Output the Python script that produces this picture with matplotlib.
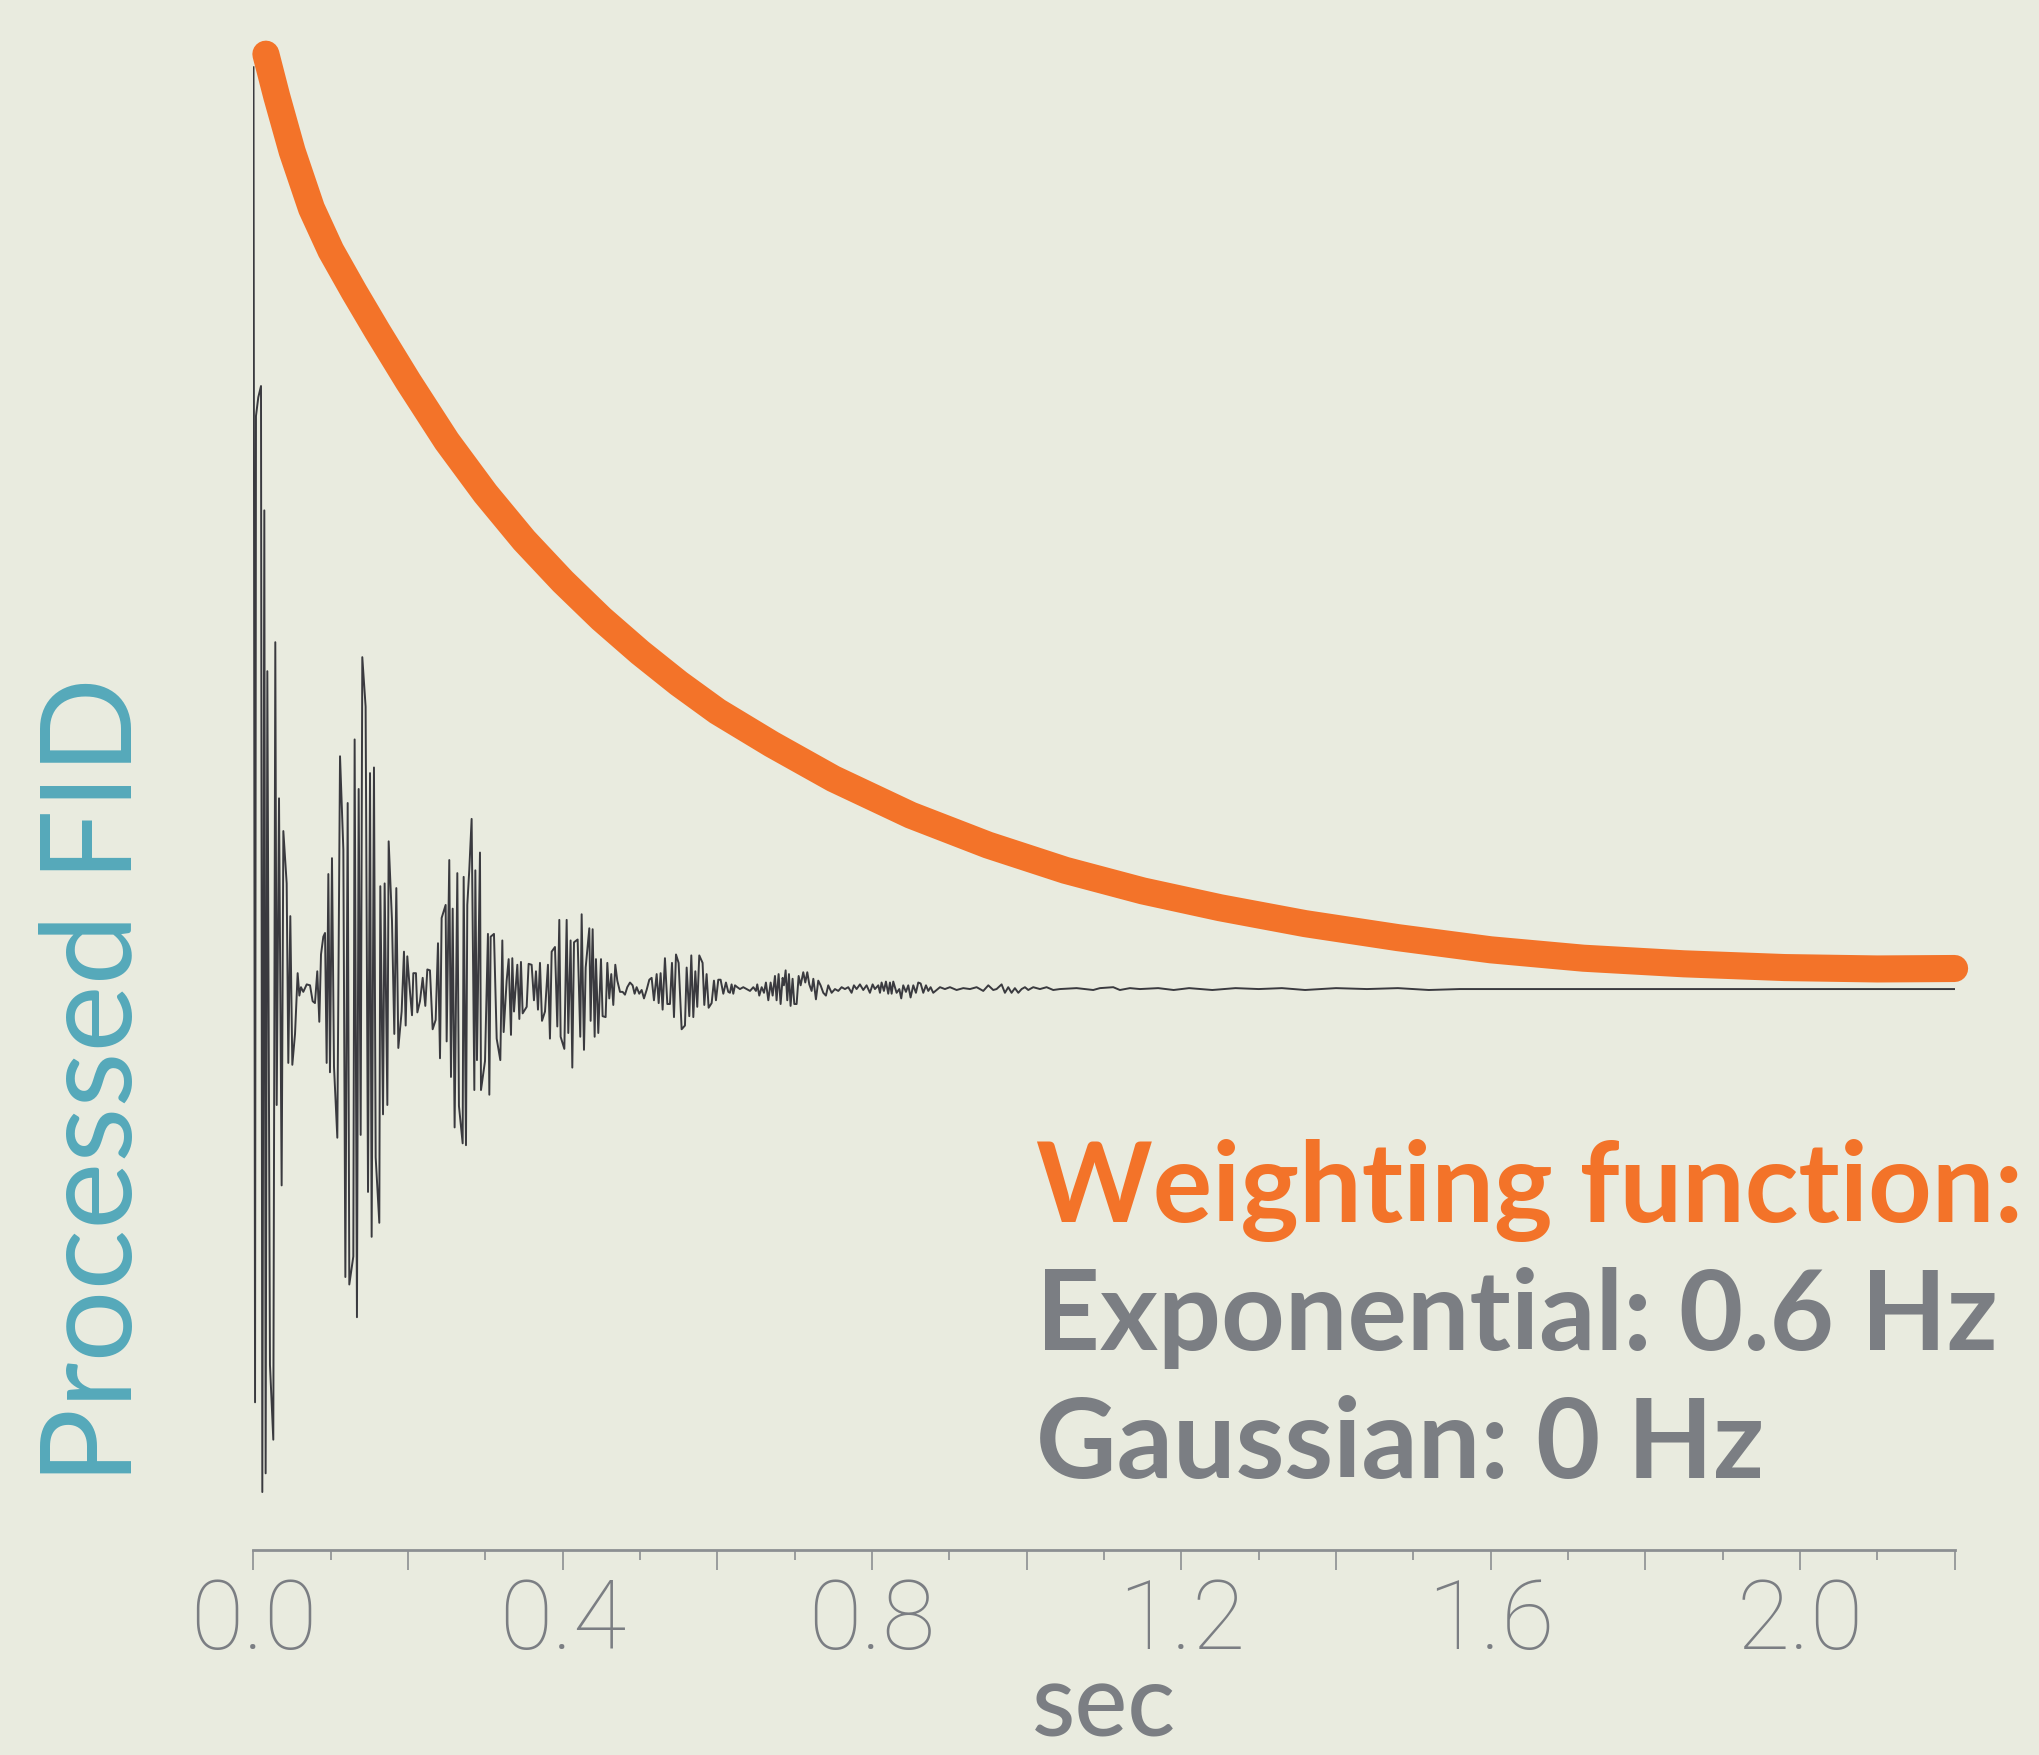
import matplotlib
matplotlib.use('Agg')
import matplotlib.pyplot as plt
import numpy as np

# processed FID (arbitrary units, baseline 0)
fid_t = [0.000, 0.002, 0.0032, 0.0062, 0.0097, 0.0114, 0.0140, 0.0157, 0.0179, 0.0213,
         0.0256, 0.0282, 0.0300, 0.0330, 0.0364, 0.0386, 0.0429, 0.0450, 0.0476, 0.0502,
         0.0537, 0.0571, 0.0593, 0.0614, 0.0644, 0.0688, 0.0731, 0.0765, 0.0795, 0.0825,
         0.0851, 0.0873, 0.0903, 0.0925, 0.0946, 0.0968, 0.0989, 0.1015, 0.1041, 0.1084,
         0.1119, 0.1162, 0.1188, 0.1218, 0.1239, 0.1291, 0.1308, 0.1338, 0.1360, 0.1386,
         0.1407, 0.1450, 0.1481, 0.1507, 0.1528, 0.1558, 0.1580, 0.1627, 0.1640, 0.1675,
         0.1696, 0.1731, 0.1748, 0.1791, 0.1821, 0.1847, 0.1873, 0.1916, 0.1946, 0.1968,
         0.1989, 0.2024, 0.2050, 0.2067, 0.2101, 0.2119, 0.2153, 0.2188, 0.2222, 0.2248,
         0.2282, 0.2317, 0.2356, 0.2386, 0.2412,
         0.2433, 0.2485, 0.2498, 0.2532, 0.2554, 0.2576, 0.2601, 0.2636, 0.2657, 0.2705,
         0.2718, 0.2748, 0.2765, 0.2791, 0.2821, 0.2856, 0.2869, 0.2890, 0.2929, 0.2942,
         0.2994, 0.3032, 0.3050, 0.3067, 0.3110, 0.3145, 0.3192, 0.3218, 0.3235, 0.3274,
         0.3300, 0.3330, 0.3347, 0.3369, 0.3412, 0.3438, 0.3459, 0.3481, 0.3533, 0.3558,
         0.3597, 0.3627, 0.3653, 0.3679, 0.3705, 0.3731, 0.3770, 0.3808, 0.3834, 0.3856,
         0.3899, 0.3929, 0.3955, 0.3972, 0.4020, 0.4050, 0.4071, 0.4101, 0.4123, 0.4145,
         0.4192, 0.4226, 0.4244, 0.4274, 0.4296, 0.4343, 0.4360, 0.4386, 0.4412, 0.4429,
         0.4459, 0.4494, 0.4515, 0.4554, 0.4576, 0.4601, 0.4627, 0.4653, 0.4679, 0.4705,
         0.4740, 0.4774, 0.4804, 0.4834, 0.4869, 0.4903, 0.4929, 0.4955, 0.4989, 0.5020,
         0.5050, 0.5084, 0.5119, 0.5149, 0.5179, 0.5214, 0.5240, 0.5265, 0.5291, 0.5321,
         0.5352, 0.5386, 0.5412, 0.5438, 0.5464, 0.5498, 0.5537, 0.5580, 0.5602, 0.5636,
         0.5662, 0.5688, 0.5714, 0.5739, 0.5765, 0.5808, 0.5830, 0.5860, 0.5886, 0.5925,
         0.5955, 0.5981, 0.6011, 0.6041, 0.6076, 0.6110, 0.6140, 0.6162,
         0.6183, 0.6205, 0.6227, 0.6257, 0.6291, 0.6334, 0.6377, 0.6421, 0.6464, 0.6498,
         0.6515, 0.6541, 0.6572, 0.6602, 0.6627, 0.6658, 0.6688, 0.6714, 0.6744, 0.6765,
         0.6791, 0.6817, 0.6843, 0.6860, 0.6882, 0.6903, 0.6925, 0.6946, 0.6972, 0.6994,
         0.7024, 0.7050, 0.7076, 0.7110, 0.7136, 0.7162, 0.7188, 0.7218, 0.7240, 0.7274,
         0.7304, 0.7334, 0.7369, 0.7403, 0.7433, 0.7477, 0.7520, 0.7563, 0.7606, 0.7649,
         0.7692, 0.7735, 0.7765, 0.7800, 0.7843, 0.7886, 0.7929, 0.7972, 0.8007, 0.8037,
         0.8080, 0.8102, 0.8123, 0.8153, 0.8179, 0.8209, 0.8231, 0.8253, 0.8274, 0.8317,
         0.8352, 0.8377, 0.8403, 0.8438, 0.8468, 0.8498, 0.8533, 0.8567, 0.8597, 0.8628,
         0.8662, 0.8697, 0.8727, 0.8757, 0.8791, 0.8834, 0.8878, 0.8942, 0.9007, 0.9093,
         0.9179, 0.9266, 0.9352, 0.9438, 0.9503, 0.9567, 0.9610, 0.9675, 0.9718, 0.9761,
         0.9804, 0.9847, 0.9891, 0.9934, 0.9977, 1.0020, 1.0084, 1.0171, 1.0257, 1.0343,
         1.0429, 1.0645, 1.0860, 1.0947, 1.1119, 1.1205, 1.1335, 1.1464,
         1.17, 1.19, 1.21, 1.24, 1.27, 1.30, 1.33, 1.36, 1.40, 1.44, 1.48, 1.52, 1.56, 2.2]
fid_v = [98.6, -44.2, 61.3, 63.3, 64.5, -53.8, 51.2, -51.8, 34.0, -40.2,
         -48.2, 37.1, -12.4, 20.4, -21.0, 16.9, 11.3, -7.9, 7.8, -8.1,
         -4.8, 1.7, -0.7, 0.2, -0.3, 0.5, 0.4, -1.3, -1.5, 1.9,
         -3.5, 3.7, 5.6, 6.0, -7.9, 12.3, -8.9, 14.0, -8.3, -15.9,
         24.9, 14.9, -30.8, 19.9, -31.6, -28.6, 26.7, -35.1, 21.4, -15.6,
         35.5, 30.2, -21.7, 23.1, -26.5, 23.7, -18.0, -25.0, 11.0, -13.4,
         11.3, -12.4, 15.8, 7.3, -4.8, 10.8, -6.3, -2.4, 4.0, -3.9,
         3.5, -0.3, -2.8, 1.7, 1.7, -2.5, -1.3, 1.2, -1.8, 2.1,
         2.0, -4.3, -3.3, 4.9, -7.4,
         7.6, 9.0, -5.6, 13.8, -9.4, 8.6, -14.8, 12.4, -12.5, -16.5,
         12.0, -16.7, 9.0, 12.8, 18.2, -10.8, 12.7, -7.6, 14.6, -10.8,
         -7.7, 5.9, -11.3, 5.6, 5.9, -5.3, -7.6, 5.2, -4.6, 0.9,
         3.2, -4.9, 3.3, -2.4, 2.6, -3.2, 2.9, -2.6, -1.9, 2.7,
         2.6, -1.2, 1.9, -2.2, 2.8, -3.4, -2.4, 2.6, -5.3, 4.0,
         4.5, -4.0, 7.4, -5.1, -6.4, 7.4, -4.7, 5.2, -8.4, 5.0,
         5.3, -5.1, 8.0, -6.5, 2.3, 6.5, -3.4, 6.4, -5.1, 3.2,
         -4.7, 3.2, -2.9, -3.0, 2.8, -1.0, 1.6, -1.7, 2.6, 0.9,
         -0.3, -0.3, -0.6, 0.2, 0.7, 0.4, -0.5, 0.2, -0.5, -0.1,
         -1.0, -0.1, 1.0, 1.2, -1.2, 1.6, -1.5, 1.7, -2.2, 3.3,
         -1.6, -1.6, 2.8, -3.0, 3.7, 2.8, -4.3, -3.9, 2.3, -2.9,
         3.6, -3.0, 1.9, -1.9, 3.6, 2.8, -1.7, 1.6, -2.0, -1.5,
         0.9, -1.2, 1.0, 1.0, -0.5, 0.7, -0.3, -0.4,
         0.5, -0.5, 0.4, 0.2, 0.0, 0.2, 0.0, -0.2, 0.2, -0.2,
         0.5, -0.7, 0.2, -0.4, 0.7, -1.2, 0.7, -0.7, 1.4, -1.2,
         1.6, -1.6, 1.2, 0.4, 2.0, -1.2, 1.6, -1.8, 1.1, -1.6,
         -1.6, 1.4, 0.4, 1.8, 0.7, 1.8, 0.5, -0.2, 1.1, -1.1,
         0.9, 0.4, -0.4, -0.7, 0.4, -0.4, 0.0, -0.2, 0.2, 0.0,
         0.2, -0.4, 0.4, 0.0, 0.5, -0.1, 0.4, -0.4, 0.5, 0.0,
         0.4, -0.4, 0.7, -0.2, 0.8, -0.5, 0.7, -0.5, 0.8, -0.4,
         0.0, -1.0, 0.4, -0.3, 0.4, -0.9, 0.4, -0.4, 0.7, 0.6,
         -0.4, 0.4, -0.2, 0.2, -0.4, -0.1, 0.2, 0.0, 0.2, -0.1,
         0.1, 0.0, 0.2, -0.2, 0.4, -0.1, 0.0, 0.5, -0.4, 0.2,
         -0.4, 0.1, -0.4, 0.0, 0.2, -0.1, 0.2, 0.0, 0.2, -0.1,
         0.0, 0.1, -0.1, 0.1, 0.2, -0.1, 0.1, 0.0,
         0.1, -0.1, 0.1, -0.1, 0.1, 0.0, 0.1, -0.1, 0.1, 0.0, 0.1, -0.1, 0.0, 0.0]

# weighting function (same units, 100 at start)
wt_t = [0.016, 0.03, 0.05, 0.075, 0.1, 0.13, 0.16, 0.2, 0.25, 0.3, 0.35, 0.4,
        0.45, 0.5, 0.55, 0.6, 0.67, 0.75, 0.85, 0.95, 1.05, 1.15, 1.25, 1.36,
        1.48, 1.6, 1.72, 1.85, 1.98, 2.1, 2.2]
wt_v = [100.0, 95.5, 89.6, 83.5, 79.0, 74.6, 70.4, 65.0, 58.6, 53.0, 48.0, 43.6,
        39.6, 36.0, 32.7, 29.7, 26.2, 22.5, 18.6, 15.4, 12.7, 10.5, 8.7, 7.0,
        5.5, 4.2, 3.3, 2.7, 2.3, 2.15, 2.2]

tick_pos = [0.0, 0.2, 0.4, 0.6, 0.8, 1.0, 1.2, 1.4, 1.6, 1.8, 2.0, 2.2]
tick_text = ['0.0', '', '0.4', '', '0.8', '', '1.2', '', '1.6', '', '2.0', '']
minor_pos = [0.1, 0.3, 0.5, 0.7, 0.9, 1.1, 1.3, 1.5, 1.7, 1.9, 2.1]

info_lines = ['Weighting function:', 'Exponential: 0.6 Hz', 'Gaussian: 0 Hz']

BG = '#e9ebdf'
ORANGE = '#f37329'
GREY = '#7b7e83'
TEAL = '#55a9ba'
INK = '#3a3a3f'
AXIS = '#8c8f92'
FONTS = ['Lato', 'DejaVu Sans']
TICKFONTS = ['Roboto', 'Lato', 'DejaVu Sans']

W, H = 2040, 1756
fig = plt.figure(figsize=(W / 100, H / 100), dpi=100, facecolor=BG)
ax = fig.add_axes([253.5 / W, 1 - 1551 / H, (1954.6 - 253.5) / W, 1551 / H])
ax.set_facecolor(BG)

ax.plot(fid_t, fid_v, color=INK, lw=1.4, zorder=2)
ax.plot(wt_t, wt_v, color=ORANGE, lw=19.5, solid_capstyle='round',
        solid_joinstyle='round', clip_on=False, zorder=3)

ax.set_xlim(0, 2.2)
ax.set_ylim(-60.0, 105.9)
for s in ['left', 'top', 'right']:
    ax.spines[s].set_visible(False)
ax.spines['bottom'].set_color(AXIS)
ax.spines['bottom'].set_linewidth(2)
ax.set_yticks([])
ax.set_xticks(tick_pos)
ax.set_xticklabels(tick_text)
ax.set_xticks(minor_pos, minor=True)
ax.tick_params(axis='x', which='major', length=14.4, width=1.2, color=AXIS,
               pad=4, labelsize=70, labelcolor=GREY)
ax.tick_params(axis='x', which='minor', length=7.2, width=1.2, color=AXIS)
for lbl in ax.get_xticklabels():
    lbl.set_fontfamily(TICKFONTS)
    lbl.set_fontweight('light')

ax.set_xlabel('sec', fontsize=68, color=GREY, family=FONTS, fontweight='medium')
ax.xaxis.set_label_coords(0.5, -(1737 - 1551) / 1551)
ax.xaxis.label.set_va('baseline')

ax.set_ylabel('Processed FID', fontsize=89, color=TEAL, family=FONTS)
ax.yaxis.set_label_coords(-(253.5 - 132) / 1700.9, 1 - 1080 / 1551)
ax.yaxis.label.set_va('baseline')

base_y = [1222, 1350, 1478]
colors = [ORANGE, GREY, GREY]
texts = []
for s, yb, c in zip(info_lines, base_y, colors):
    texts.append(fig.text(1036 / W, 1 - yb / H, s, color=c, fontsize=78,
                          fontweight='bold', family=FONTS, va='baseline'))

# fit text sizes to the measured widths
fig.canvas.draw()
r = fig.canvas.get_renderer()
k = 989 / texts[0].get_window_extent(r).width
for t in texts:
    t.set_fontsize(78 * k)
lab = ax.yaxis.label
k = 807 / lab.get_window_extent(r).height
lab.set_fontsize(89 * k)
lab = ax.xaxis.label
k = 144 / lab.get_window_extent(r).width
lab.set_fontsize(68 * k)

fig.savefig('out.png', dpi=100, facecolor=BG)
